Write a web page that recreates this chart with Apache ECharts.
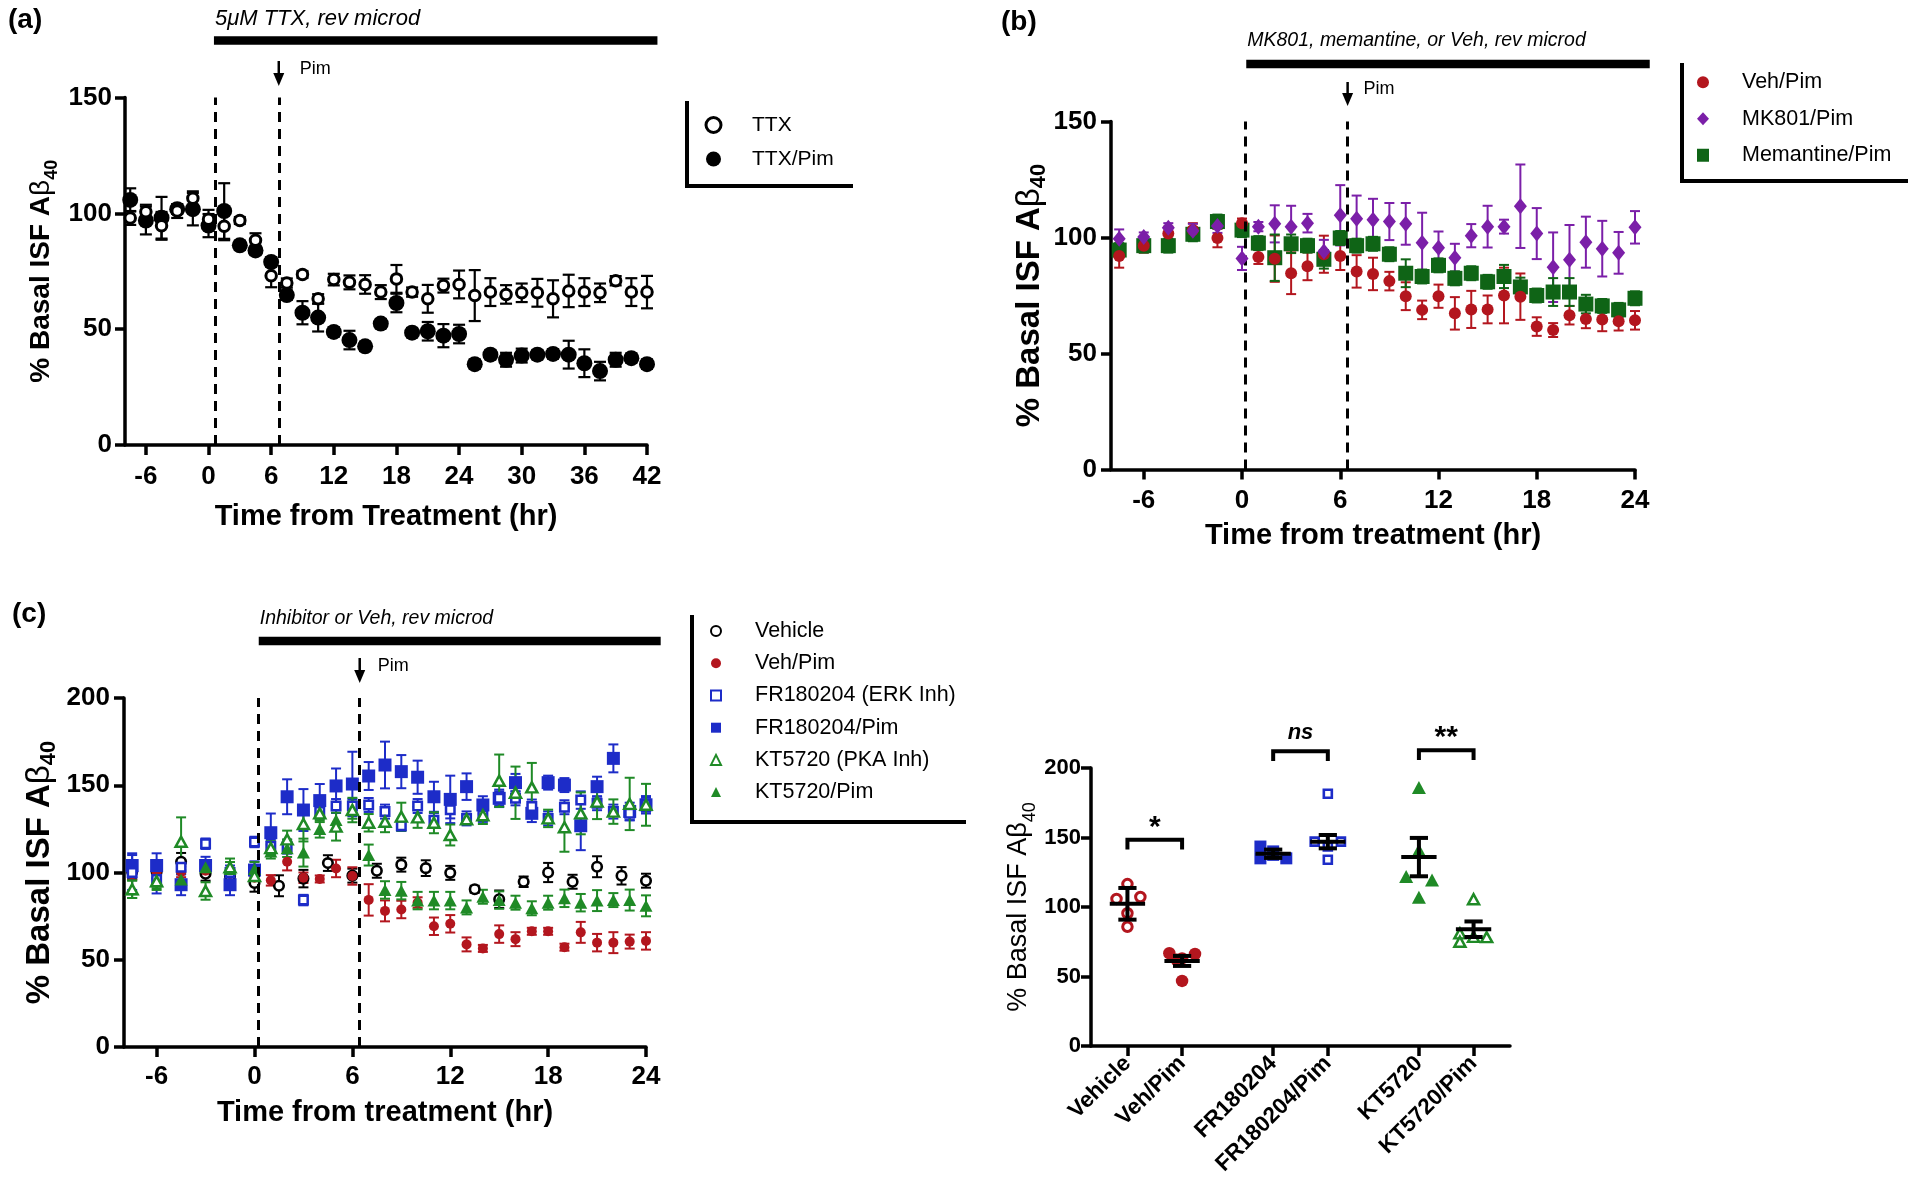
<!DOCTYPE html>
<html><head><meta charset="utf-8">
<script src="https://cdn.jsdelivr.net/npm/echarts@6/dist/echarts.min.js"></script>
<style>html,body{margin:0;padding:0;background:#fff}#c{width:1920px;height:1183px}</style>
</head><body><div id="c"></div>
<script>
const FONT = '"Liberation Sans", Arial, Helvetica, sans-serif';
const RED = '#b3161e', PURPLE = '#7b1fa8', DKGREEN = '#0f6416', BLUE = '#1d2cc8', GREEN = '#1f8a26';

// ---------- Panel (a) ----------
const timeA = [-7.5,-6,-4.5,-3,-1.5,0,1.5,3,4.5,6,7.5,9,10.5,12,13.5,15,16.5,18,19.5,21,22.5,24,25.5,27,28.5,30,31.5,33,34.5,36,37.5,39,40.5,42];
const ttxA = [98,100.7,94.6,101,106.5,97.5,94.4,96.9,88.4,73.1,69.9,73.6,63.1,71.4,70.2,69.3,66,71.7,66,63.1,68.8,69.3,64.5,66,65,65.7,65.7,63.1,66.5,66,65.7,70.9,66,66];
const ttxErrA = [3,3,6,3,3,4,6,1.5,3,5,2,1.5,2,2.5,3,4,3,6,2,6,3,6,11,6,4,4,6,8,7,6,4,2,6,7];
const ttxPimA = [105.8,96.9,98.1,101.8,101.8,94.7,101,86.2,84,79,64.7,57.1,55,48.8,45.3,42.6,52.4,61.3,48.5,49.1,47.2,47.9,34.9,39,36.8,38.6,39,39.3,39,35.3,31.9,36.8,37.5,34.9];
const ttxPimErrA = [5,6,9,2,7,5,12,2,2,2,2,5,6,2,4,2,2,4,2,4,5,4,2,2,3,3,2,2,6,6,4,3,2,2];
const ticksA = [-6,0,6,12,18,24,30,36,42];
const dashA = [0.63, 6.73];

// ---------- Panel (b) ----------
const timeB = [-7.5,-6,-4.5,-3,-1.5,0,1,2,3,4,5,6,7,8,9,10,11,12,13,14,15,16,17,18,19,20,21,22,23,24];
const vehPimB = [92,96.5,101.7,103.2,99.8,106.2,91.6,90.9,84.6,87.6,92.8,92,85.4,84.3,81.2,74.7,68.8,74.7,67.3,69,69,75,74.5,61.6,60.1,66.5,64.9,64.6,63.9,64.3];
const vehPimErrB = [5,3,3,3,4,2,3,10,9,6,8,6,7,7,4,6,4,5,7,8,6,12,10,4,3,4,4,5,4,4];
const mk801B = [99.5,100.2,104.2,102.9,105,91,104.7,105.9,104.7,106.2,94,109.6,108.1,107.7,106.9,105.9,97.7,95.6,91.3,100.8,104.7,104.7,113.5,101.7,87.2,90.4,98,95.2,93.4,104.4];
const mk801ErrB = [4,2,2,3,3,5,2,8,9,4,5,13,10,9,8,9,13,7,6,5,9,3,18,11,15,15,11,12,9,7];
const memB = [94.6,96.5,96.5,101.4,106.9,103.2,97.6,91.3,97.3,96.5,90.6,99.8,96.5,97.3,92.8,84.6,83.2,88,82.4,84.6,80.9,83.2,78.7,75,76.5,76.5,71.3,70.5,68.8,73.8];
const memErrB = [3,3,3,3,3,3,3,10,4,3,4,3,3,3,3,6,3,3,3,3,3,5,4,3,6,6,4,3,3,3];
const ticksBC = [-6,0,6,12,18,24];
const dashB = [0.2, 6.45];

// ---------- Panel (c) ----------
const timeC1 = [-7.5,-6,-4.5,-3,-1.5,0,1.5,3,4.5,6,7.5,9,10.5,12,13.5,15,16.5,18,19.5,21,22.5,24];
const vehicleC = [100.3,100.3,106.2,99.3,97.7,94,92.4,96.5,105.4,98.2,101,104.5,102.5,99.8,90.4,84.7,94.7,100,94.7,103.3,98.1,95.3];
const vehicleErrC = [4,4,5,4,4,5,6,5,4.5,4,4,4,4.5,4,2,5,3,5.5,4,6,5,4];
const timeC2 = [-7.5,-6,-4.5,-3,-1.5,0,1,2,3,4,5,6,7,8,9,10,11,12,13,14,15,16,17,18,19,20,21,22,23,24];
const vehPimC = [99,100,100.3,101,99,97,95.5,106.2,97,96.3,102.3,98,84.3,78,78.8,82.8,69.2,70.6,58.8,56.5,64.7,61.8,66.3,66.3,57.2,65.7,59.8,59.8,60.4,60.8];
const vehPimErrC = [3,3,3,3,3,3,3,5,3,2,5,5,9,6,5,3,5,5,4,2,5,4,2,2,2,6,5,6,4,5];
const frC = [100,96,103,116.5,100,117.5,115,114.8,84.2,134.9,138.1,138.1,138.7,134.9,126.8,138.1,130,136,131,133,142.5,142.5,137.8,131,137.4,141.5,139.7,134.9,133.9,138.8];
const frErrC = [10,8,4,3,4,3,4,4,3,4,4,4,4,4,3,4,4,5,4,4,4,4,4,4,4,5,4,4,4,4];
const frPimC = [104,104,93,104,93,101.4,122.8,143.4,135.8,141.2,149.6,150.7,155.3,161.6,157.8,154.6,143.4,141.9,149.2,138.7,142.5,151.5,133.9,151.5,150.1,126.8,149.2,165.4,135,138.8];
const frPimErrC = [7,7,6,5,6,5,11,10,12,9.5,10,18.5,8,13.4,9.5,9.5,8.6,13.6,7.6,5,5,5,5,4,4,14,5.7,8,5,5];
const ktC = [90.4,95,117.6,89.4,103,98,114,119,127.8,133.9,126.3,135.8,128.5,129.1,132,131.6,128.5,121.5,130.5,132.8,152.6,145.7,148.8,131,125.9,133.9,140.6,134.9,139.3,138.8];
const ktErrC = [5,5,14,5,5,4,4,5,10,5,8,7,5,6,8,6,6,6,2,5,15,15,14,5,14,12,10,7,15,12];
const ktPimC = [90.4,95,96,103,102,102,112,113.9,111.4,125,130.1,135.8,110,90,89.6,83.9,83.9,83.9,80,86.1,84.2,82.7,79.5,82.7,85.2,82.7,83.9,84.2,84.2,80.9];
const ktPimErrC = [5,4,4,4,4,4,4,5,8,5,6,5,6,5,5,5,5,5,4,4,5,4,4,4,5,5,6,4,6,6];
const dashC = [0.26, 6.45];

// ---------- Panel (d) ----------
const groupsD = ['Vehicle','Veh/Pim','FR180204','FR180204/Pim','KT5720','KT5720/Pim'];
const slotsD = [2,5,10,13,18,21];
const vehicleD = [116.5,105.8,107.2,95.5,85.8];   const vehicleJit = [0,-0.6,0.71,0,0];
const vehPimD = [66.7,66.2,63,62,46.8];           const vehPimJit = [-0.7,0.71,0,-0.3,0];
const frD = [143.5,135,137.5,135,140];            const frJit = [-0.7,-0.7,0,0.72,0];
const frPimD = [181.5,147,147,143.5,134];         const frPimJit = [0,-0.72,0.72,0,0];
const ktD = [186,141,122,119.5,107];              const ktJit = [0,0,-0.7,0.72,0];
const ktPimD = [105.6,81,75,78.5,78.3];           const ktPimJit = [0,-0.75,-0.75,0,0.72];
const meansD = [102.3,61.2,138.3,147,135.9,84];
const errD = [11.4,3.6,3,4.8,13.8,5.6];
const bracketPairs = [[2,5],[10,13],[18,21]];
const bracketTop = [148.3,212,212.7];
const sigLabels = ['*','ns','**'];
const sigY = [157,225,222];

// ---------- annotations ----------
const barSpanA = [0.52, 43.0], barSpanB = [0.26, 24.9], barSpanC = [0.26, 24.9];
const pimA = 6.73, pimB = 6.45, pimC = 6.45;

const zip = (xs, ys) => xs.map((x, i) => [x, ys[i]]);
const zip3 = (xs, ys, es) => xs.map((x, i) => [x, ys[i], es[i]]);

function sc(name, g, data, symbol, size, color, filled, bw, z) {
  return {type:'scatter', name, xAxisIndex:g, yAxisIndex:g, data, symbol, symbolSize:size,
    itemStyle: filled ? {color, opacity:1} : {color:'#fff', borderColor:color, borderWidth:bw, opacity:1},
    z: z || 3, emphasis:{disabled:true}, silent:true};
}
function eb(name, g, data, color, cap, lw) {
  return {type:'custom', name, xAxisIndex:g, yAxisIndex:g, data, encode:{x:0, y:1}, z:2, silent:true,
    renderItem: (p, api) => {
      const x = api.value(0), y = api.value(1), e = api.value(2);
      const a = api.coord([x, y + e]), b = api.coord([x, y - e]);
      const st = {stroke:color, lineWidth:lw, fill:null};
      return {type:'group', children:[
        {type:'line', shape:{x1:a[0], y1:a[1], x2:b[0], y2:b[1]}, style:st},
        {type:'line', shape:{x1:a[0]-cap, y1:a[1], x2:a[0]+cap, y2:a[1]}, style:st},
        {type:'line', shape:{x1:b[0]-cap, y1:b[1], x2:b[0]+cap, y2:b[1]}, style:st}]};
    }};
}
function dashes(vals) {
  return {silent:true, symbol:['none','none'], animation:false, label:{show:false}, emphasis:{disabled:true},
    lineStyle:{type:[10,7], width:3, color:'#000'}, data: vals.map(v => ({xAxis:v}))};
}
function yName(size, weight) {
  return {rich:{
    t:{fontSize:size, fontWeight:weight, fontFamily:FONT, color:'#000', lineHeight:40},
    b:{fontSize:size, fontWeight:'normal', fontFamily:FONT, color:'#000', lineHeight:40},
    s:{fontSize:Math.round(size*0.66), fontWeight:weight, fontFamily:FONT, color:'#000', lineHeight:20, verticalAlign:'bottom'}
  }};
}
const NAME_Y = '{t|% Basal ISF A}{b|β}{s|40}';
function timeX(g, min, max, ticks, name, nameGap, margin) {
  return {type:'value', gridIndex:g, min, max, name, nameLocation:'middle', nameGap,
    nameTextStyle:{fontSize:29, fontWeight:'bold', color:'#000', fontFamily:FONT},
    axisLine:{show:true, onZero:false, lineStyle:{color:'#000', width:3.5}},
    axisTick:{show:true, customValues:ticks, length:10, lineStyle:{color:'#000', width:3.5}},
    axisLabel:{customValues:ticks, fontSize:26, fontWeight:'bold', color:'#000', fontFamily:FONT, margin},
    splitLine:{show:false}};
}
function valY(g, max, nameSize, nameWeight, nameGap, labelSize, margin) {
  return {type:'value', gridIndex:g, min:0, max, interval:50, name:NAME_Y, nameLocation:'middle', nameGap,
    nameTruncate:{maxWidth:2000},
    nameTextStyle:yName(nameSize, nameWeight),
    axisLine:{show:true, onZero:false, lineStyle:{color:'#000', width:3.5}},
    axisTick:{show:true, length:10, lineStyle:{color:'#000', width:3.5}},
    axisLabel:{fontSize:labelSize, fontWeight:'bold', color:'#000', fontFamily:FONT, margin},
    splitLine:{show:false}};
}

const series = [
  // (a)
  eb('TTX err', 0, zip3(timeA, ttxA, ttxErrA), '#000', 6, 2.2),
  eb('TTX/Pim err', 0, zip3(timeA, ttxPimA, ttxPimErrA), '#000', 6, 2.2),
  Object.assign(sc('TTX/Pim', 0, zip(timeA, ttxPimA), 'circle', 16, '#000', true), {markLine: dashes(dashA)}),
  sc('TTX', 0, zip(timeA, ttxA), 'circle', 10.5, '#000', false, 3, 4),
  // (b)
  eb('Veh/Pim err b', 1, zip3(timeB, vehPimB, vehPimErrB), RED, 5, 2),
  eb('MK801 err', 1, zip3(timeB, mk801B, mk801ErrB), PURPLE, 5, 2),
  eb('Mem err', 1, zip3(timeB, memB, memErrB), DKGREEN, 5, 2),
  Object.assign(sc('Memantine/Pim', 1, zip(timeB, memB), 'rect', 15, DKGREEN, true), {markLine: dashes(dashB)}),
  sc('Veh/Pim', 1, zip(timeB, vehPimB), 'circle', 12, RED, true, 0, 4),
  sc('MK801/Pim', 1, zip(timeB, mk801B), 'diamond', [13,16], PURPLE, true, 0, 5),
  // (c)
  eb('Veh err c', 2, zip3(timeC1, vehicleC, vehicleErrC), '#000', 5, 2),
  eb('VehPim err c', 2, zip3(timeC2, vehPimC, vehPimErrC), RED, 5, 2),
  eb('FR err', 2, zip3(timeC2, frC, frErrC), BLUE, 5, 2),
  eb('FRPim err', 2, zip3(timeC2, frPimC, frPimErrC), BLUE, 5, 2),
  eb('KT err', 2, zip3(timeC2, ktC, ktErrC), GREEN, 5, 2),
  eb('KTPim err', 2, zip3(timeC2, ktPimC, ktPimErrC), GREEN, 5, 2),
  Object.assign(sc('Vehicle', 2, zip(timeC1, vehicleC), 'circle', 9.5, '#000', false, 2.6, 3), {markLine: dashes(dashC)}),
  sc('Veh/Pim', 2, zip(timeC2, vehPimC), 'circle', 10, RED, true, 0, 3),
  sc('FR180204/Pim', 2, zip(timeC2, frPimC), 'rect', 13, BLUE, true, 0, 3),
  sc('FR180204 (ERK Inh)', 2, zip(timeC2, frC), 'rect', 8.5, BLUE, false, 2.5, 4),
  sc('KT5720/Pim', 2, zip(timeC2, ktPimC), 'triangle', [13,12], GREEN, true, 0, 4),
  sc('KT5720 (PKA Inh)', 2, zip(timeC2, ktC), 'triangle', [11,10], GREEN, false, 2.5, 5),
  // (d)
  sc('d Vehicle', 3, vehicleD.map((v,i)=>[slotsD[0]+vehicleJit[i], v]), 'circle', 9.5, RED, false, 3),
  sc('d Veh/Pim', 3, vehPimD.map((v,i)=>[slotsD[1]+vehPimJit[i], v]), 'circle', 12.5, RED, true),
  sc('d FR180204', 3, frD.map((v,i)=>[slotsD[2]+frJit[i], v]), 'rect', 12, BLUE, true),
  sc('d FR180204/Pim', 3, frPimD.map((v,i)=>[slotsD[3]+frPimJit[i], v]), 'rect', 8, BLUE, false, 2.6),
  sc('d KT5720', 3, ktD.map((v,i)=>[slotsD[4]+ktJit[i], v]), 'triangle', [14,13], GREEN, true),
  sc('d KT5720/Pim', 3, ktPimD.map((v,i)=>[slotsD[5]+ktPimJit[i], v]), 'triangle', [11,10], GREEN, false, 2.5),
  {type:'custom', name:'d mean', xAxisIndex:3, yAxisIndex:3, z:6, silent:true, encode:{x:0, y:1},
    data: slotsD.map((s,i)=>[s, meansD[i], errD[i]]),
    renderItem: (p, api) => {
      const x = api.value(0), m = api.value(1), e = api.value(2);
      const c = api.coord([x, m]), t = api.coord([x, m + e]), b = api.coord([x, m - e]);
      const l = api.coord([x - 0.97, m])[0], r = api.coord([x + 0.97, m])[0];
      const cl = api.coord([x - 0.5, m])[0], cr = api.coord([x + 0.5, m])[0];
      const st = {stroke:'#000', lineWidth:4};
      return {type:'group', children:[
        {type:'line', shape:{x1:l, y1:c[1], x2:r, y2:c[1]}, style:st},
        {type:'line', shape:{x1:c[0], y1:t[1], x2:c[0], y2:b[1]}, style:st},
        {type:'line', shape:{x1:cl, y1:t[1], x2:cr, y2:t[1]}, style:st},
        {type:'line', shape:{x1:cl, y1:b[1], x2:cr, y2:b[1]}, style:st}]};
    }},
  {type:'custom', name:'d brackets', xAxisIndex:3, yAxisIndex:3, z:6, silent:true, clip:false, encode:{x:0, y:2},
    data: bracketPairs.map((pr,i)=>[pr[0], pr[1], bracketTop[i]]),
    renderItem: (p, api) => {
      const i = p.dataIndex;
      const x1 = api.value(0), x2 = api.value(1), top = api.value(2);
      const a = api.coord([x1, top - 7]), b = api.coord([x1, top]), c = api.coord([x2, top]), d = api.coord([x2, top - 7]);
      const lp = api.coord([(x1 + x2) / 2, sigY[i]]);
      const isNs = sigLabels[i] === 'ns';
      return {type:'group', children:[
        {type:'polyline', shape:{points:[a,b,c,d]}, style:{stroke:'#000', lineWidth:4, fill:null}},
        {type:'text', x:lp[0], y:lp[1], style:{text:sigLabels[i], fill:'#000',
          font: isNs ? 'italic bold 22px ' + FONT : 'bold 30px ' + FONT, textAlign:'center', textVerticalAlign:'middle'}}]};
    }}
];

const legendText = (size, lh, pad) => ({fontSize:size, color:'#000', fontFamily:FONT, lineHeight:lh, padding:[0,0,0,pad]});
const option = {
  animation:false, backgroundColor:'#fff',
  textStyle:{fontFamily:FONT},
  grid:[
    {left:125, top:97.5, width:522, height:347.5, containLabel:false, outerBoundsMode:'none'},
    {left:1111, top:121.6, width:524, height:347.8, containLabel:false, outerBoundsMode:'none'},
    {left:124, top:698, width:522, height:349, containLabel:false, outerBoundsMode:'none'},
    {left:1091, top:768, width:419, height:278, containLabel:false, outerBoundsMode:'none'}
  ],
  xAxis:[
    timeX(0, -8, 42, ticksA, 'Time from Treatment (hr)', 57, 19),
    timeX(1, -8, 24, ticksBC, 'Time from treatment (hr)', 52, 18),
    timeX(2, -8, 24, ticksBC, 'Time from treatment (hr)', 51, 17),
    {type:'value', gridIndex:3, min:0, max:23,
      axisLine:{show:true, onZero:false, lineStyle:{color:'#000', width:3.5}},
      axisTick:{show:true, customValues:slotsD, length:10, lineStyle:{color:'#000', width:3.5}},
      axisLabel:{customValues:slotsD, formatter:(v)=>groupsD[slotsD.indexOf(v)] || '', rotate:45,
        fontSize:22.5, fontWeight:'bold', color:'#000', fontFamily:FONT, margin:14},
      splitLine:{show:false}}
  ],
  yAxis:[
    valY(0, 150, 28, 'bold', 64, 26, 13),
    valY(1, 150, 33, 'bold', 60, 26, 14),
    valY(2, 200, 33, 'bold', 64, 26, 14),
    valY(3, 200, 27, 'normal', 52, 22, 10)
  ],
  legend:[
    {data:[{name:'TTX', itemStyle:{borderWidth:3}}, 'TTX/Pim'], orient:'vertical', left:704.5, top:108, padding:0,
      itemWidth:15, itemHeight:15, itemGap:0, selectedMode:false, textStyle:legendText(21, 34, 26)},
    {data:['Veh/Pim','MK801/Pim','Memantine/Pim'], orient:'vertical', left:1697, top:64, padding:0,
      itemWidth:12, itemHeight:13, itemGap:0, selectedMode:false, textStyle:legendText(21.5, 36.5, 28)},
    {data:['Vehicle','Veh/Pim','FR180204 (ERK Inh)','FR180204/Pim','KT5720 (PKA Inh)','KT5720/Pim'],
      orient:'vertical', left:710, top:615, padding:0,
      itemWidth:10, itemHeight:10, itemGap:0, selectedMode:false, textStyle:legendText(21.5, 32.2, 29)}
  ],
  series
};

const chart = echarts.init(document.getElementById('c'), null, {renderer:'canvas', width:1920, height:1183});
chart.setOption(option);

// annotations positioned from the axes' own scales
const px = (g, x) => chart.convertToPixel({gridIndex:g}, [x, 0])[0];
const gr = [];
function topBar(g, span, yc, label, size, textY) {
  const x1 = px(g, span[0]), x2 = px(g, span[1]);
  gr.push({type:'rect', shape:{x:x1, y:yc - 4.3, width:x2 - x1, height:8.6}, style:{fill:'#000'}, silent:true});
  gr.push({type:'text', x:x1 + 1, y:textY, style:{text:label, fill:'#000', font:'italic ' + size + 'px ' + FONT,
    textAlign:'left', textVerticalAlign:'middle'}, silent:true});
}
function arrow(g, t, y0, y1, textDx, textY) {
  const x = px(g, t);
  gr.push({type:'line', shape:{x1:x, y1:y0, x2:x, y2:y1 - 8}, style:{stroke:'#000', lineWidth:2.5}, silent:true});
  gr.push({type:'polygon', shape:{points:[[x - 5.5, y1 - 13], [x + 5.5, y1 - 13], [x, y1]]}, style:{fill:'#000'}, silent:true});
  gr.push({type:'text', x:x + textDx, y:textY, style:{text:'Pim', fill:'#000', font:'18px ' + FONT,
    textAlign:'left', textVerticalAlign:'middle'}, silent:true});
}
topBar(0, barSpanA, 40.5, '5μM TTX, rev microd', 22, 19);
topBar(1, barSpanB, 64, 'MK801, memantine, or Veh, rev microd', 19.5, 41);
topBar(2, barSpanC, 641, 'Inhibitor or Veh, rev microd', 19.5, 619);
arrow(0, pimA, 61, 86, 21, 69);
arrow(1, pimB, 82, 106, 16, 89);
arrow(2, pimC, 658, 683, 18, 666);
[[[687,101],[687,186],[853,186]], [[1682,63],[1682,181],[1908,181]], [[692,615],[692,822],[966,822]]].forEach(pts => {
  gr.push({type:'polyline', shape:{points:pts}, style:{stroke:'#000', lineWidth:4, fill:null}, silent:true});
});
[['(a)', 8, 20], ['(b)', 1001, 22], ['(c)', 12, 614]].forEach(([t, x, y]) => {
  gr.push({type:'text', x, y, style:{text:t, fill:'#000', font:'bold 28px ' + FONT, textAlign:'left', textVerticalAlign:'middle'}, silent:true});
});
chart.setOption({graphic: gr});
</script>
</body></html>
